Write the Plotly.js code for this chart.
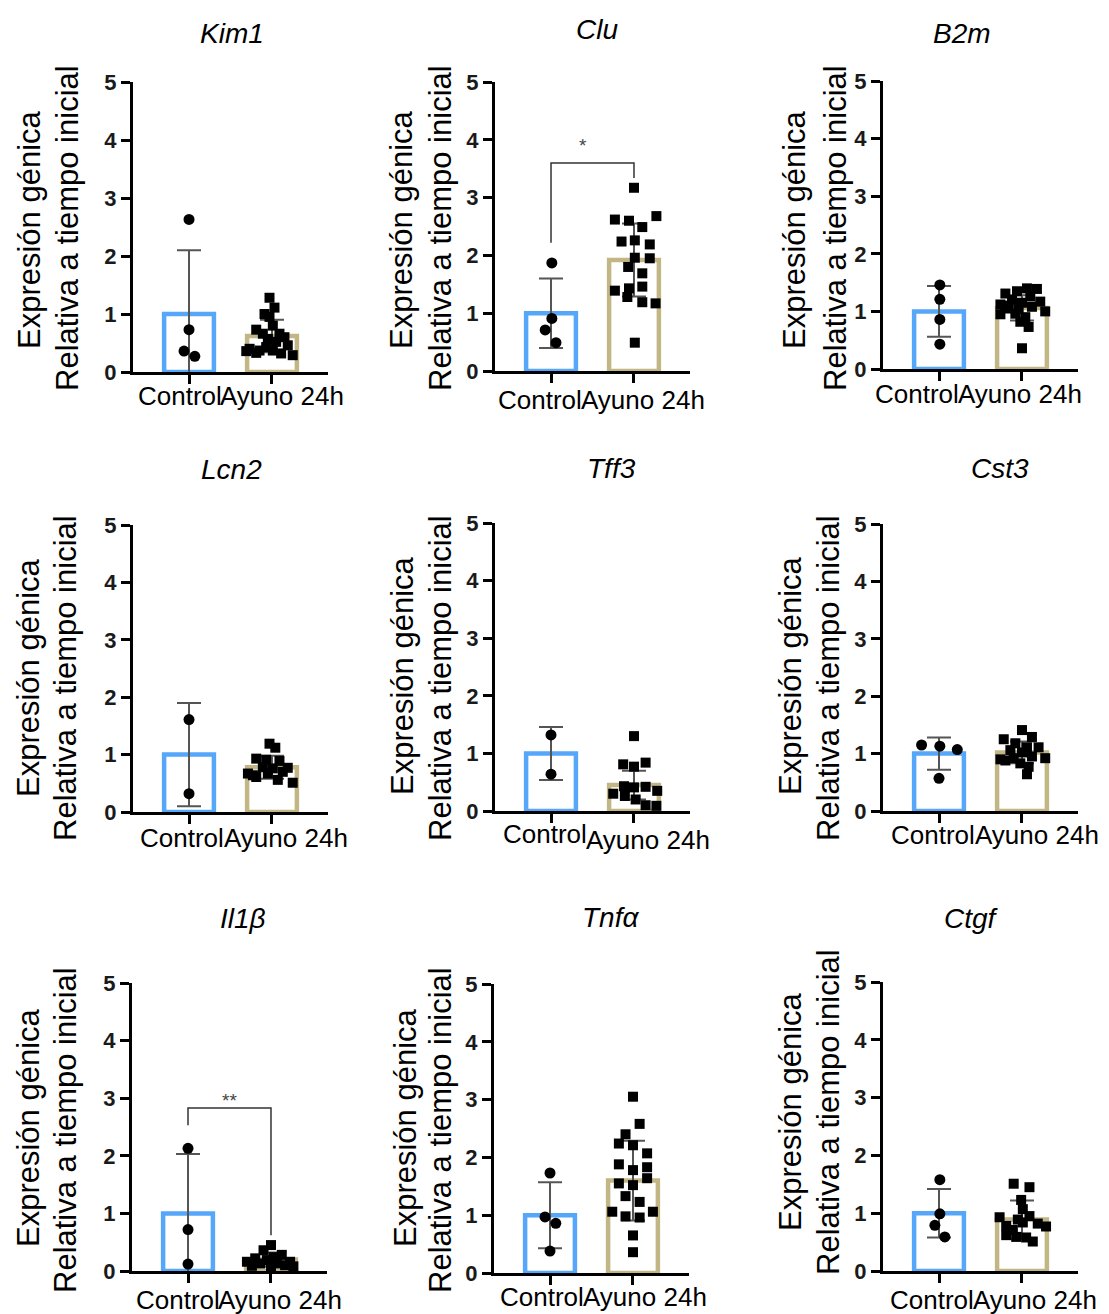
<!DOCTYPE html>
<html><head><meta charset="utf-8">
<script src="https://cdn.plot.ly/plotly-3.0.1.min.js"></script>
<style>html,body{margin:0;padding:0;background:#fff}#chart{width:1109px;height:1314px}</style>
</head><body><div id="chart"></div>
<script>
// ---------- DATA ----------
const genes = ['Kim1', 'Clu', 'B2m', 'Lcn2', 'Tff3', 'Cst3', 'Il1β', 'Tnfα', 'Ctgf'];
const groups = ['Control', 'Ayuno 24h'];
const yTickVals = [0, 1, 2, 3, 4, 5];
const yTitleLine1 = 'Expresión génica';
const yTitleLine2 = 'Relativa a tiempo inicial';

const ctrlMean = [1.0, 1.0, 1.0, 1.0, 1.0, 1.0, 1.0, 1.0, 1.0];
const ctrlSD   = [1.1, 0.6, 0.44, 0.9, 0.46, 0.28, 1.03, 0.57, 0.42];
const fastMean = [0.62, 1.92, 1.06, 0.78, 0.45, 1.02, 0.2, 1.6, 0.89];
const fastSD   = [0.28, 0.63, 0.22, 0.2, 0.25, 0.19, 0.12, 0.69, 0.33];

const kim1Ctrl = [2.63, 0.73, 0.36, 0.27];
const kim1CtrlJit = [0, 0, -0.06, 0.07];
const kim1Fast = [1.28, 1.11, 1.0, 0.95, 0.80, 0.73, 0.66, 0.66, 0.60, 0.57, 0.52, 0.46, 0.40, 0.37, 0.43, 0.37, 0.32, 0.33, 0.29, 0.36];
const kim1FastJit = [-0.03, 0.03, -0.09, -0.03, 0.01, -0.19, -0.11, 0.09, 0.15, -0.05, 0.05, 0.19, -0.27, -0.15, -0.07, 0.01, 0.11, -0.19, 0.25, -0.31];

const cluCtrl = [1.87, 0.91, 0.71, 0.49];
const cluCtrlJit = [0.01, 0.01, -0.07, 0.06];
const cluFast = [3.17, 2.62, 2.60, 2.68, 2.49, 2.24, 2.26, 2.19, 1.96, 1.95, 1.80, 1.69, 1.39, 1.43, 1.46, 1.28, 1.19, 1.17, 0.49];
const cluFastJit = [0, -0.23, -0.06, 0.27, 0.10, -0.15, 0.01, 0.19, 0.01, 0.19, -0.07, 0.10, -0.23, -0.06, 0.10, -0.08, 0.10, 0.26, 0.01];

const b2mCtrl = [1.46, 1.21, 0.86, 0.43];
const b2mCtrlJit = [0.01, 0.01, 0.01, 0.01];
const b2mFast = [1.40, 1.39, 1.31, 1.35, 1.26, 1.20, 1.17, 1.15, 1.12, 1.08, 1.05, 1.04, 1.0, 0.95, 0.96, 0.90, 0.82, 0.73, 0.36, 1.1];
const b2mFastJit = [0.06, 0.18, -0.20, -0.06, 0.10, -0.12, 0.22, 0, -0.26, 0.12, -0.16, -0.04, 0.28, -0.26, -0.08, 0.04, -0.02, 0.08, 0, -0.20];

const lcn2Ctrl = [1.61, 0.32];
const lcn2CtrlJit = [0, 0];
const lcn2Fast = [1.19, 1.12, 0.93, 0.91, 0.89, 0.78, 0.77, 0.76, 0.67, 0.61, 0.67, 0.56, 0.51, 0.64, 0.70];
const lcn2FastJit = [-0.03, 0.04, -0.19, -0.07, 0.09, -0.11, 0.19, 0.01, -0.29, -0.19, -0.05, 0.07, 0.25, -0.23, 0.13];

const tff3Ctrl = [1.32, 0.64];
const tff3CtrlJit = [0, 0];
const tff3Fast = [1.30, 0.81, 0.77, 0.84, 0.43, 0.41, 0.42, 0.35, 0.30, 0.26, 0.20, 0.10, 0.09];
const tff3FastJit = [0, -0.13, 0, 0.14, -0.12, 0, 0.14, 0.28, -0.25, -0.11, 0.02, 0.14, 0.27];

const cst3Ctrl = [1.15, 1.13, 1.07, 0.57];
const cst3CtrlJit = [-0.21, 0.01, 0.22, 0];
const cst3Fast = [1.41, 1.25, 1.29, 1.18, 1.11, 1.11, 1.06, 1.02, 0.90, 0.92, 0.95, 0.92, 0.88, 0.83, 0.77, 0.64];
const cst3FastJit = [0, -0.22, 0.12, -0.08, 0.06, 0.2, -0.14, 0, -0.26, -0.1, 0.12, 0.28, -0.2, -0.02, 0.08, 0.06];

const il1bCtrl = [2.13, 0.72, 0.12];
const il1bCtrlJit = [0, 0, 0];
const il1bFast = [0.45, 0.36, 0.28, 0.22, 0.24, 0.16, 0.19, 0.16, 0.13, 0.13, 0.10, 0.09, 0.08, 0.08];
const il1bFastJit = [0, -0.09, 0.13, -0.19, 0.03, -0.29, -0.05, 0.23, -0.13, 0.07, 0.17, -0.23, 0.27, 0];

const tnfaCtrl = [1.73, 0.97, 0.86, 0.38];
const tnfaCtrlJit = [0, -0.06, 0.07, 0];
const tnfaFast = [3.05, 2.58, 2.40, 2.24, 2.21, 2.07, 1.88, 1.83, 1.78, 1.64, 1.55, 1.52, 1.33, 1.23, 1.06, 1.06, 0.98, 0.96, 0.65, 0.36];
const tnfaFastJit = [0, 0.08, -0.09, -0.17, 0, 0.17, -0.17, 0.17, 0, 0.17, -0.17, 0, -0.09, 0.08, -0.25, 0.24, -0.09, 0.08, 0, 0];

const ctgfCtrl = [1.58, 0.99, 0.79, 0.59];
const ctgfCtrlJit = [0.01, 0.01, -0.05, 0.07];
const ctgfFast = [1.51, 1.45, 1.23, 0.93, 1.07, 0.95, 0.89, 0.82, 0.77, 0.78, 0.71, 0.62, 0.59, 0.58, 0.51, 0.84];
const ctgfFastJit = [-0.1, 0.09, -0.01, -0.27, 0.01, 0.09, -0.05, 0.19, 0.29, -0.19, -0.11, -0.19, -0.07, 0.05, 0.13, 0.01];

// significance brackets: [control-end y, top y, fasted-end y]
const cluBracket = [2.22, 3.6, 3.34];
const cluStar = '*';
const il1bBracket = [2.53, 2.83, 0.62];
const il1bStar = '**';

const ctrlPts = [kim1Ctrl, cluCtrl, b2mCtrl, lcn2Ctrl, tff3Ctrl, cst3Ctrl, il1bCtrl, tnfaCtrl, ctgfCtrl];
const ctrlJit = [kim1CtrlJit, cluCtrlJit, b2mCtrlJit, lcn2CtrlJit, tff3CtrlJit, cst3CtrlJit, il1bCtrlJit, tnfaCtrlJit, ctgfCtrlJit];
const fastPts = [kim1Fast, cluFast, b2mFast, lcn2Fast, tff3Fast, cst3Fast, il1bFast, tnfaFast, ctgfFast];
const fastJit = [kim1FastJit, cluFastJit, b2mFastJit, lcn2FastJit, tff3FastJit, cst3FastJit, il1bFastJit, tnfaFastJit, ctgfFastJit];

// ---------- LAYOUT GEOMETRY (pixels) ----------
const W = 1109, H = 1314;
const FONT = 'Liberation Sans, Arial, sans-serif';
const BLUE = '#56A6FA', TAN = '#C2B685';
// [yAxisX, y5px, y0px]
const panelPx = [
  [133, 82, 372], [495, 82, 371], [883, 81, 369],
  [133, 525, 812], [495, 523, 811], [883, 524, 811],
  [132, 983, 1271], [494, 984, 1273], [883, 982, 1271]
];
const plotW = 195;
const titlePx = [[232,33],[597,29],[962,33],[231,470],[611,468],[1000,468],[243,918],[610,917],[971,918]];
const yT1Px = [[30,230],[402,230],[795,230],[28,678],[402,676],[790,676],[28,1128],[405,1128],[790,1112]];
const yT2Px = [[67,228],[440,228],[835,228],[65,678],[440,678],[828,678],[65,1130],[440,1130],[828,1112]];
// [control right edge, ayuno left edge, y control, y ayuno]
const xLabPx = [[220,222,396,396],[580,583,400,400],[957,960,394,394],[222,226,838,838],[585,588,834,840],[973,977,835,835],[218,220,1300,1300],[582,585,1297,1297],[972,975,1300,1300]];

const px = v => v / W;
const py = v => 1 - v / H;

const traces = [];
const layout = {
  width: W, height: H, margin: {l: 0, r: 0, t: 0, b: 0},
  paper_bgcolor: '#fff', plot_bgcolor: 'rgba(0,0,0,0)',
  showlegend: false, font: {family: FONT, color: '#000'},
  annotations: [], shapes: []
};

genes.forEach((g, i) => {
  const s = i === 0 ? '' : String(i + 1);
  const xa = 'x' + s, ya = 'y' + s;
  const [ax, y5, y0] = panelPx[i];
  layout['xaxis' + s] = {
    domain: [px(ax), px(ax + plotW)], range: [-0.675, 1.675], anchor: ya,
    showline: true, linewidth: 3, linecolor: '#000', ticks: 'outside', ticklen: 9, tickwidth: 3, tickcolor: '#000',
    tickvals: [0, 1], showticklabels: false, showgrid: false, zeroline: false, fixedrange: true
  };
  layout['yaxis' + s] = {
    domain: [py(y0), py(y5)], range: [0, 5], anchor: xa,
    showline: true, linewidth: 3, linecolor: '#000', ticks: 'outside', ticklen: 9, tickwidth: 3, tickcolor: '#000',
    tickvals: yTickVals, ticktext: yTickVals.map(String),
    tickfont: {family: FONT, size: 22, color: '#1a1a1a', weight: 'bold'},
    showgrid: false, zeroline: false, fixedrange: true
  };
  traces.push({
    type: 'bar', x: [0, 1], y: [ctrlMean[i], fastMean[i]], width: 0.6, xaxis: xa, yaxis: ya,
    marker: {color: 'rgba(255,255,255,0)', line: {color: [BLUE, TAN], width: 4.5}},
    error_y: {type: 'data', array: [ctrlSD[i], fastSD[i]], visible: true, color: '#555', thickness: 2, width: 12},
    hoverinfo: 'skip'
  });
  traces.push({
    type: 'scatter', mode: 'markers', xaxis: xa, yaxis: ya, cliponaxis: false,
    x: ctrlJit[i].map(d => 0 + d), y: ctrlPts[i],
    marker: {symbol: 'circle', size: 11, color: '#000'}
  });
  traces.push({
    type: 'scatter', mode: 'markers', xaxis: xa, yaxis: ya, cliponaxis: false,
    x: fastJit[i].map(d => 1 + d), y: fastPts[i],
    marker: {symbol: 'square', size: 10, color: '#000'}
  });

  // panel title
  layout.annotations.push({
    text: g, xref: 'paper', yref: 'paper', x: px(titlePx[i][0]), y: py(titlePx[i][1]),
    xanchor: 'center', yanchor: 'middle', showarrow: false,
    font: {family: FONT, size: 28, style: 'italic', color: '#000'}
  });
  // y-axis title lines
  layout.annotations.push({
    text: yTitleLine1, xref: 'paper', yref: 'paper', x: px(yT1Px[i][0]), y: py(yT1Px[i][1]),
    xanchor: 'center', yanchor: 'middle', textangle: -90, showarrow: false,
    font: {family: FONT, size: 31, color: '#000'}
  });
  layout.annotations.push({
    text: yTitleLine2, xref: 'paper', yref: 'paper', x: px(yT2Px[i][0]), y: py(yT2Px[i][1]),
    xanchor: 'center', yanchor: 'middle', textangle: -90, showarrow: false,
    font: {family: FONT, size: 31, color: '#000'}
  });
  // x category labels (touching, as in the original)
  const [cr, al, cy, ay] = xLabPx[i];
  layout.annotations.push({
    text: groups[0], xref: 'paper', yref: 'paper', x: px(cr + 3), y: py(cy),
    xanchor: 'right', yanchor: 'middle', showarrow: false, borderpad: 0,
    font: {family: FONT, size: 26, color: '#000'}
  });
  layout.annotations.push({
    text: groups[1], xref: 'paper', yref: 'paper', x: px(al - 3), y: py(ay),
    xanchor: 'left', yanchor: 'middle', showarrow: false, borderpad: 0,
    font: {family: FONT, size: 26, color: '#000'}
  });
});

function bracket(axisIdx, b, starText, starX, starY) {
  const s = axisIdx === 0 ? '' : String(axisIdx + 1);
  layout.shapes.push({
    type: 'path', xref: 'x' + s, yref: 'y' + s,
    path: `M 0 ${b[0]} L 0 ${b[1]} L 1 ${b[1]} L 1 ${b[2]}`,
    line: {color: '#333', width: 1.5}
  });
  layout.annotations.push({
    text: starText, xref: 'x' + s, yref: 'y' + s, x: starX, y: starY,
    xanchor: 'center', yanchor: 'middle', showarrow: false,
    font: {family: FONT, size: 19, color: '#444'}
  });
}
bracket(1, cluBracket, cluStar, 0.38, 3.9);
bracket(6, il1bBracket, il1bStar, 0.5, 2.96);

Plotly.newPlot('chart', traces, layout, {staticPlot: true, displayModeBar: false});
</script>
</body></html>
